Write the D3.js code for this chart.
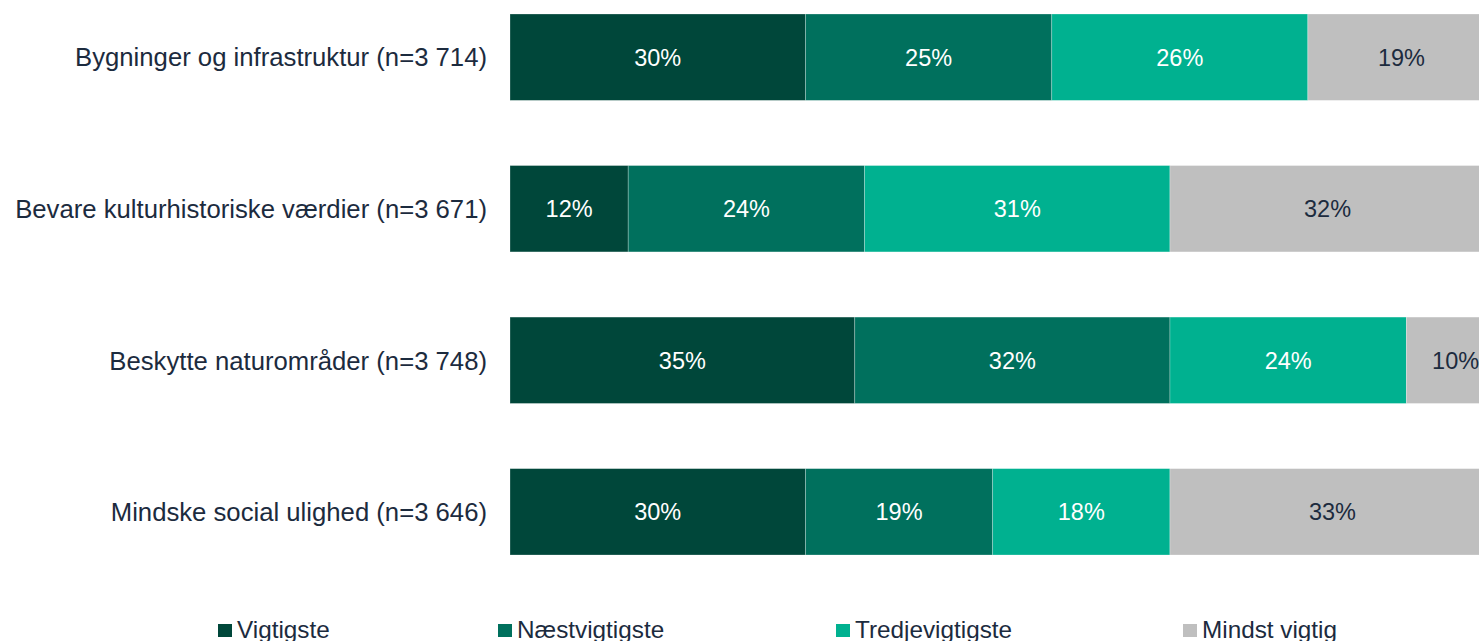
<!DOCTYPE html>
<html>
<head>
<meta charset="utf-8">
<script src="https://cdn.jsdelivr.net/npm/d3@7"></script>
<style>
  html, body { margin: 0; padding: 0; background: #fff; overflow: hidden; }
  svg { display: block; font-family: "Liberation Sans", Arial, Helvetica, sans-serif; }
</style>
</head>
<body>
<svg id="chart" width="1479" height="641"></svg>
<script>
// Ranking of priorities, share of respondents per rank (%)
const categories = [
  "Bygninger og infrastruktur (n=3 714)",
  "Bevare kulturhistoriske værdier (n=3 671)",
  "Beskytte naturområder (n=3 748)",
  "Mindske social ulighed (n=3 646)"
];
const seriesNames = ["Vigtigste", "Næstvigtigste", "Tredjevigtigste", "Mindst vigtig"];
const vigtigste       = [30, 12, 35, 30];
const naestvigtigste  = [25, 24, 32, 19];
const tredjevigtigste = [26, 31, 24, 18];
const mindstVigtig    = [19, 32, 10, 33];
const colors = ["#00473a", "#00705d", "#00b190", "#bfbfbf"];
const labelColors = ["#ffffff", "#ffffff", "#ffffff", "#1c2b3e"];

const seriesValues = [vigtigste, naestvigtigste, tredjevigtigste, mindstVigtig];
const rows = categories.map((c, i) => {
  const r = { category: c };
  seriesNames.forEach((s, j) => { r[s] = seriesValues[j][i]; });
  return r;
});

const svg = d3.select("#chart");

const x = d3.scaleLinear().domain([0, 100]).range([510, 1495]);
const y = d3.scaleBand().domain(categories).range([14, 555]).paddingInner(0.43).paddingOuter(0);

const stacked = d3.stack().keys(seriesNames)(rows);

const layers = svg.append("g").selectAll("g")
  .data(stacked)
  .join("g")
  .attr("fill", (d, i) => colors[i]);

layers.selectAll("rect")
  .data(d => d)
  .join("rect")
  .attr("x", d => x(d[0]))
  .attr("y", d => y(d.data.category))
  .attr("width", d => x(d[1]) - x(d[0]))
  .attr("height", y.bandwidth())
  .attr("stroke", "rgba(255,255,255,0.35)")
  .attr("stroke-width", 0.75);

// Value labels centred in each segment
stacked.forEach((layer, i) => {
  svg.append("g").selectAll("text")
    .data(layer)
    .join("text")
    .attr("x", d => (x(d[0]) + x(d[1])) / 2)
    .attr("y", d => y(d.data.category) + y.bandwidth() / 2)
    .attr("dy", "0.36em")
    .attr("text-anchor", "middle")
    .attr("font-size", 23.5)
    .attr("fill", labelColors[i])
    .text(d => (d[1] - d[0]) + "%");
});

// Category axis labels
const yAxis = d3.axisLeft(y).tickSize(0).tickPadding(23);
const ax = svg.append("g").attr("transform", "translate(510,0)").call(yAxis);
ax.select(".domain").remove();
ax.selectAll("text")
  .attr("font-size", 25.7)
  .attr("font-family", "Liberation Sans, Arial, sans-serif")
  .attr("dy", "0.36em")
  .attr("fill", "#1c2b3e");

// Legend
const legendX = [218, 498, 836, 1183];
const legend = svg.append("g").selectAll("g")
  .data(seriesNames)
  .join("g")
  .attr("transform", (d, i) => `translate(${legendX[i]},624)`);
legend.append("rect")
  .attr("width", 14).attr("height", 13)
  .attr("fill", (d, i) => colors[i]);
legend.append("text")
  .attr("x", 19).attr("y", 14)
  .attr("font-size", 24.3)
  .attr("fill", "#1c2b3e")
  .text(d => d);
</script>
</body>
</html>
